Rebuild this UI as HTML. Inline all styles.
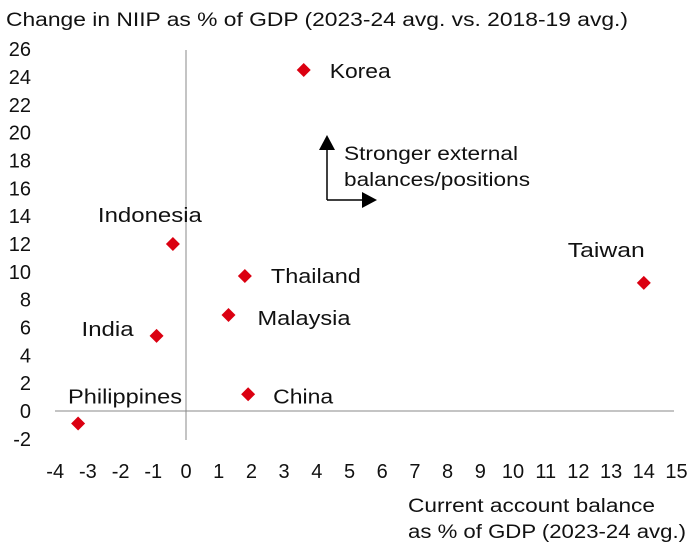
<!DOCTYPE html>
<html><head><meta charset="utf-8"><style>
body{margin:0;background:#fff;}
svg{display:block;font-family:"Liberation Sans",Arial,sans-serif;}
</style></head><body>
<svg id="c" width="699" height="552">
<text x="6" y="26" font-size="19" fill="#111" textLength="622" lengthAdjust="spacingAndGlyphs">Change in NIIP as % of GDP (2023-24 avg. vs. 2018-19 avg.)</text>
<text x="408" y="512" font-size="19" fill="#111" textLength="247" lengthAdjust="spacingAndGlyphs">Current account balance</text>
<text x="408" y="538" font-size="19" fill="#111" textLength="278" lengthAdjust="spacingAndGlyphs">as % of GDP (2023-24 avg.)</text>
<text x="344" y="160" font-size="19" fill="#111" textLength="174" lengthAdjust="spacingAndGlyphs">Stronger external</text>
<text x="344" y="186" font-size="19" fill="#111" textLength="186" lengthAdjust="spacingAndGlyphs">balances/positions</text>
<g>
<line x1="327" y1="200" x2="327" y2="148" stroke="#000" stroke-width="1.5"/>
<polygon points="319,150 335,150 327,135" fill="#000"/>
<line x1="327" y1="200" x2="364" y2="200" stroke="#000" stroke-width="1.5"/>
<polygon points="362,192 362,208 377,200" fill="#000"/>
</g>
<g id="axes"></g><g id="marks"></g>
</svg>
<script>
const names=["Korea","Taiwan","Indonesia","Thailand","Malaysia","India","China","Philippines"];
const xVals=[3.6,14.0,-0.4,1.8,1.3,-0.9,1.9,-3.3];
const yVals=[24.5,9.2,12.0,9.7,6.9,5.4,1.2,-0.9];
const xTicks=[-4,-3,-2,-1,0,1,2,3,4,5,6,7,8,9,10,11,12,13,14,15];
const yTicks=[26,24,22,20,18,16,14,12,10,8,6,4,2,0,-2];
const labelOff=[[26,8,"start"],[1,-26,"end"],[-23,-22,"middle"],[26,7,"start"],[29,10,"start"],[-23,0,"end"],[25,9,"start"],[-11,-20,"start"]];
const labelLen=[61,77,104,90,93,52,60,114];
const ns="http://www.w3.org/2000/svg";
const X=v=>186+v*32.7, Y=v=>411-v*13.92;
const ax=document.getElementById('axes'),mk=document.getElementById('marks');
function el(t,a,p){const e=document.createElementNS(ns,t);for(const k in a)e.setAttribute(k,a[k]);p.appendChild(e);return e;}
let l=el('line',{x1:55,x2:674,y1:Y(0),y2:Y(0),stroke:'#888'},ax);

l=el('line',{x1:X(0),x2:X(0),y1:50,y2:440,stroke:'#888'},ax);

xTicks.forEach(v=>{const t=el('text',{x:X(v),y:478,'font-size':20,'text-anchor':'middle',fill:'#111'},ax);t.textContent=v;
});
yTicks.forEach(v=>{const t=el('text',{x:31,y:Y(v)+7,'font-size':20,'text-anchor':'end',fill:'#111'},ax);t.textContent=v;
});
names.forEach((n,i)=>{const cx=X(xVals[i]),cy=Y(yVals[i]);
const p=el('polygon',{points:`${cx},${cy-7} ${cx+7},${cy} ${cx},${cy+7} ${cx-7},${cy}`,fill:'#db0011'},mk);

const o=labelOff[i];let lx=cx+o[0];
if(n==="Philippines")lx=68;
const t=el('text',{x:lx,y:cy+o[1],'font-size':20,'text-anchor':o[2],fill:'#111',textLength:labelLen[i],lengthAdjust:'spacingAndGlyphs'},mk);t.textContent=n;
});
</script>
</body></html>
